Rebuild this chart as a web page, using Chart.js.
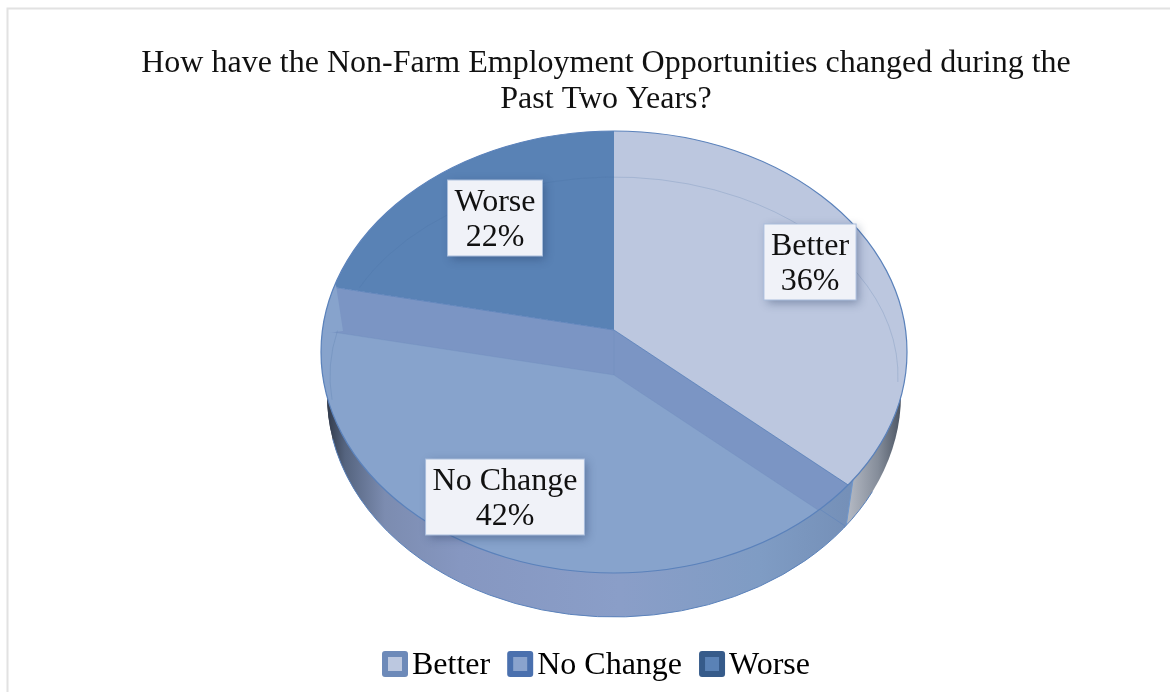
<!DOCTYPE html>
<html>
<head>
<meta charset="utf-8">
<title>Non-Farm Employment Opportunities</title>
<script src="https://cdn.jsdelivr.net/npm/chart.js@4"></script>
<style>
  html, body { margin: 0; background: #fff; }
  canvas { display: block; }
</style>
</head>
<body>
<canvas id="employmentChart" width="1170" height="692"></canvas>
<script>
const categories = ['Better', 'No Change', 'Worse'];
const shares = [36, 42, 22];
const titleLines = ['How have the Non-Farm Employment Opportunities changed during the', 'Past Two Years?'];

const faceColors = ['#bcc7df', '#87a3cc', '#5982b5'];
const swatchEdges = ['#6d8ab9', '#4a70ae', '#365b8a'];
const swatchFills = ['#bcc8e0', '#8aa3cd', '#5a82b6'];
const FONT = '"Liberation Serif", "Times New Roman", serif';

// Tilted disc: top rim, lower rim of the side wall, and the wedge apexes
const disc = {
    cx: 614, cy: 352, rx: 293, ry: 221,
    wallCy: 395, wallRx: 287, wallRy: 222,
    apexY: 330, sunkApexY: 375, wallApexY: 373,
    wedgeRx: 330, wedgeRy: 264
};

// Centre of each value box on the disc, same order as categories
const boxCentres = [[810, 262], [505, 497], [495, 218]];

function ellipsePath(ctx, cy, rx, ry) {
    ctx.beginPath();
    ctx.ellipse(disc.cx, cy, rx, ry, 0, 0, Math.PI * 2);
}

// Draw a pie arc squashed into the tilted disc, apex at the given height
function drawFace(ctx, arc, apexY, overrides) {
    const sx = disc.wedgeRx / arc.outerRadius;
    const sy = disc.wedgeRy / arc.outerRadius;
    const saved = arc.options;
    arc.options = Object.assign({}, saved, overrides);
    ctx.save();
    ctx.translate(disc.cx, apexY);
    ctx.scale(sx, sy);
    ctx.translate(-arc.x, -arc.y);
    arc.draw(ctx);
    ctx.restore();
    arc.options = saved;
}

function wedgePath(ctx, arc, apexY) {
    ctx.beginPath();
    ctx.moveTo(disc.cx, apexY);
    ctx.ellipse(disc.cx, apexY, disc.wedgeRx, disc.wedgeRy, 0, arc.startAngle, arc.endAngle);
    ctx.closePath();
}

function wallGradient(ctx, stops) {
    const first = stops[0][0];
    const last = stops[stops.length - 1][0];
    const g = ctx.createLinearGradient(first, 0, last, 0);
    stops.forEach(s => g.addColorStop((s[0] - first) / (last - first), s[1]));
    return g;
}

// Side wall under the No Change and Better wedges
function drawWall(ctx, arcs) {
    const lowerFill = wallGradient(ctx, [[328, '#333c4d'], [345, '#55647f'], [385, '#7c8cb0'], [460, '#8697c1'],
        [620, '#8a9ec8'], [760, '#7f9cc4'], [848, '#7590b8']]);
    const rightFill = wallGradient(ctx, [[846, '#b7bcc6'], [878, '#858d9a'], [897, '#565f6d'], [907, '#343c49']]);

    ctx.save();
    ellipsePath(ctx, disc.wallCy, disc.wallRx, disc.wallRy);
    ctx.clip();

    // No Change wall runs up to the seam under the facet
    ctx.fillStyle = lowerFill;
    wedgePath(ctx, arcs[1], disc.apexY);
    ctx.fill();
    wedgePath(ctx, arcs[1], disc.wallApexY);
    ctx.fill();
    ctx.fillRect(815, 478, 40, 50);
    wedgePath(ctx, arcs[1], disc.wallApexY);
    ctx.strokeStyle = 'rgba(91,130,187,0.5)';
    ctx.lineWidth = 1;
    ctx.stroke();

    // Better wall starts at the seam
    ctx.beginPath();
    ctx.moveTo(853, 480);
    ctx.lineTo(846, 527);
    ctx.lineTo(930, 527);
    ctx.lineTo(930, 300);
    ctx.lineTo(853, 300);
    ctx.closePath();
    ctx.fillStyle = rightFill;
    ctx.fill();

    ctx.strokeStyle = '#6f97cc';
    ctx.beginPath();
    ctx.moveTo(853, 480);
    ctx.lineTo(846, 527);
    ctx.stroke();
    ctx.restore();

    ctx.strokeStyle = '#5b82bb';
    ctx.lineWidth = 1;
    ctx.beginPath();
    ctx.ellipse(disc.cx, disc.wallCy, disc.wallRx, disc.wallRy, 0, 0.45, Math.PI - 0.2);
    ctx.stroke();
}

function drawTop(ctx, arcs) {
    const edge = { borderColor: '#5b82bb', borderWidth: 0.7 };
    ctx.save();
    ellipsePath(ctx, disc.cy, disc.rx, disc.ry);
    ctx.clip();
    drawFace(ctx, arcs[0], disc.apexY);
    drawFace(ctx, arcs[2], disc.apexY);
    // slanted facet between the upper wedges and the sunken No Change face
    drawFace(ctx, arcs[1], disc.apexY, Object.assign({ backgroundColor: '#7b95c4' }, edge));
    drawFace(ctx, arcs[1], disc.sunkApexY, { borderColor: 'rgba(110,140,190,0.35)', borderWidth: 0.7 });

    // small lighter bevel at the left end of the facet
    ctx.fillStyle = faceColors[1];
    ctx.beginPath();
    ctx.moveTo(336, 285);
    ctx.lineTo(343, 331);
    ctx.lineTo(318, 334);
    ctx.lineTo(318, 285);
    ctx.closePath();
    ctx.fill();

    // join between the two levels at the apex
    ctx.strokeStyle = 'rgba(110,140,190,0.4)';
    ctx.lineWidth = 1;
    ctx.beginPath();
    ctx.moveTo(disc.cx, disc.apexY);
    ctx.lineTo(disc.cx, disc.sunkApexY);
    ctx.stroke();

    // faint inner rim of the disc, broken where the facet crosses it
    ctx.strokeStyle = 'rgba(72,108,160,0.2)';
    ctx.beginPath();
    ctx.ellipse(disc.cx, 376, 284, 199, 0, Math.PI - 0.12, Math.PI + 0.23);
    ctx.stroke();
    ctx.beginPath();
    ctx.ellipse(disc.cx, 376, 284, 199, 0, Math.PI + 0.46, Math.PI * 2 + 0.03);
    ctx.stroke();
    ctx.restore();

    ctx.strokeStyle = '#5b82bb';
    ctx.lineWidth = 1.2;
    ellipsePath(ctx, disc.cy, disc.rx, disc.ry);
    ctx.stroke();
}

function drawValueBox(ctx, i) {
    const lines = [categories[i], shares[i] + '%'];
    ctx.font = '32px ' + FONT;
    const w = Math.max(ctx.measureText(lines[0]).width, ctx.measureText(lines[1]).width) + 14;
    const h = 76;
    const [x, y] = boxCentres[i];
    ctx.save();
    ctx.shadowColor = 'rgba(30,50,90,0.4)';
    ctx.shadowBlur = 9;
    ctx.shadowOffsetX = 3;
    ctx.shadowOffsetY = 3;
    ctx.fillStyle = '#f0f2f8';
    ctx.fillRect(x - w / 2, y - h / 2, w, h);
    ctx.restore();
    ctx.strokeStyle = '#a9bddc';
    ctx.lineWidth = 1;
    ctx.strokeRect(x - w / 2, y - h / 2, w, h);
    ctx.fillStyle = '#111';
    ctx.textAlign = 'center';
    ctx.textBaseline = 'middle';
    ctx.fillText(lines[0], x, y - 15);
    ctx.fillText(lines[1], x, y + 20);
}

const tiltedPie = {
    id: 'tiltedPie',
    afterLayout(chart) {
        // legend sits a little left of the title
        const legend = chart.legend;
        legend.left -= 10;
        legend.right -= 10;
        legend.legendHitBoxes.forEach(b => { b.left -= 10; });
    },
    beforeDraw(chart) {
        // chart frame, only the top and left edges show
        const ctx = chart.ctx;
        ctx.save();
        ctx.strokeStyle = '#e2e2e2';
        ctx.lineWidth = 2;
        ctx.beginPath();
        ctx.moveTo(7.5, chart.height);
        ctx.lineTo(7.5, 8.5);
        ctx.lineTo(chart.width, 8.5);
        ctx.stroke();
        ctx.restore();
    },
    beforeDatasetsDraw(chart) {
        const ctx = chart.ctx;
        const arcs = chart.getDatasetMeta(0).data;
        drawWall(ctx, arcs);
        drawTop(ctx, arcs);
        categories.forEach((c, i) => drawValueBox(ctx, i));
        return false;
    },
    afterDraw(chart) {
        const ctx = chart.ctx;
        chart.legend.legendHitBoxes.forEach((b, i) => {
            const x = b.left;
            const y = b.top + b.height / 2 - 15;
            ctx.fillStyle = swatchEdges[i];
            ctx.beginPath();
            ctx.roundRect(x, y, 26, 26, 3);
            ctx.fill();
            ctx.fillStyle = swatchFills[i];
            ctx.fillRect(x + 6, y + 6, 14, 14);
        });
    }
};

new Chart(document.getElementById('employmentChart'), {
    type: 'pie',
    data: {
        labels: categories,
        datasets: [{
            data: shares,
            backgroundColor: faceColors,
            borderWidth: 0
        }]
    },
    options: {
        responsive: false,
        animation: false,
        layout: { padding: { left: 42, top: 34, bottom: 0 } },
        plugins: {
            title: {
                display: true,
                text: titleLines,
                color: '#111',
                font: { family: FONT, size: 32, weight: 'normal', lineHeight: 1.125 },
                padding: { top: 12, bottom: 10 }
            },
            legend: {
                position: 'bottom',
                labels: {
                    color: '#111',
                    font: { family: FONT, size: 32 },
                    boxWidth: 14,
                    boxHeight: 14,
                    padding: 17,
                    generateLabels: chart => categories.map((text, i) => ({
                        text,
                        fillStyle: 'transparent',
                        strokeStyle: 'transparent',
                        lineWidth: 0,
                        index: i
                    }))
                }
            },
            tooltip: { enabled: false }
        }
    },
    plugins: [tiltedPie]
});
</script>
</body>
</html>
